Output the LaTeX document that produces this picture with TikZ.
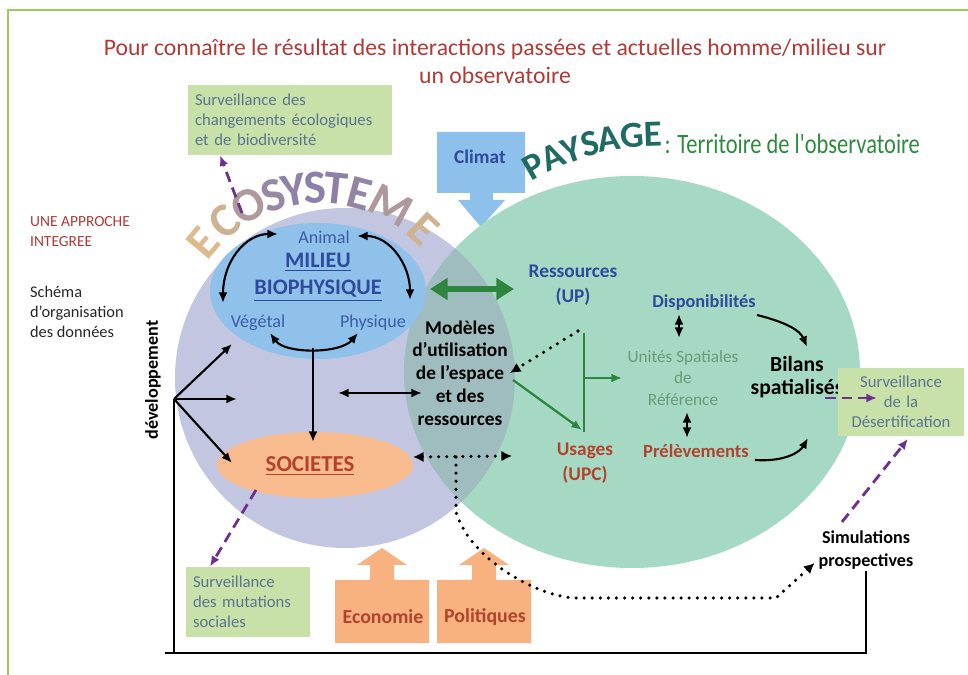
\documentclass[tikz,border=0pt]{standalone}
\usepackage{fontspec}
\setmainfont{Carlito}
\usetikzlibrary{arrows.meta,positioning,calc}

\definecolor{titlered}{HTML}{B03A36}
\definecolor{ecolav}{HTML}{C3C6E0}
\definecolor{paymint}{HTML}{A5D9C3}
\definecolor{lensgray}{HTML}{9FBCBE}
\definecolor{milblue}{HTML}{8FC1EA}
\definecolor{socorange}{HTML}{F8BB8E}
\definecolor{survgreen}{HTML}{C7E1A9}
\definecolor{survtext}{HTML}{5D7390}
\definecolor{darkblue}{HTML}{2F4A9C}
\definecolor{midblue}{HTML}{3D5CA8}
\definecolor{darkred}{HTML}{B2432C}
\definecolor{arrgreen}{HTML}{2E8540}
\definecolor{climblue}{HTML}{8DC0EA}
\definecolor{facorange}{HTML}{F8B27F}
\definecolor{purpledash}{HTML}{6E2F8E}
\definecolor{unitgreen}{HTML}{6A9A78}
\definecolor{framegreen}{HTML}{9BCB5B}
\definecolor{ecotan}{HTML}{E0C08C}
\definecolor{ecopurple}{HTML}{857AAB}
\definecolor{payteal}{HTML}{1F6A62}
\definecolor{terrgreen}{HTML}{2E8B3E}

\tikzset{
  lbl/.style={inner sep=1pt, align=center},
  survbox/.style={fill=survgreen, text=survtext, inner sep=4pt,
    font=\fontsize{9.5}{11.4}\selectfont},
  blkarr/.style={line width=1.2pt, -{Latex[length=6pt,width=5pt]}},
  dblarr/.style={line width=1.2pt, {Latex[length=6pt,width=5pt]}-{Latex[length=6pt,width=5pt]}},
  dotline/.style={line width=2pt, line cap=round, dash pattern=on 0pt off 4.6pt},
  purparr/.style={purpledash, line width=1.6pt, dash pattern=on 6pt off 3.5pt,
    -{Latex[length=6pt,width=5pt]}},
  grnline/.style={arrgreen, line width=1.3pt},
}

\begin{document}
\begin{tikzpicture}[x=0.02cm, y=-0.02cm]
\useasboundingbox (0,0) rectangle (968,675);

% frame
\draw[framegreen, line width=1pt] (968,10) -- (8,10) -- (8,675);

% title and side texts
\node[lbl, text=titlered, font=\fontsize{13.5}{16}\selectfont] (title) at (495,61)
  {Pour connaître le résultat des interactions passées et actuelles homme/milieu sur\\un observatoire};
\node[lbl, anchor=west, align=left, text=titlered, font=\fontsize{8.8}{11.4}\selectfont] (approche) at (28,232)
  {UNE APPROCHE\\INTEGREE};
\node[lbl, anchor=west, align=left, text=black!85, font=\fontsize{9.3}{11.4}\selectfont] (schema) at (28,312)
  {Schéma\\d’organisation\\des données};

% climat and factors
\fill[climblue] (437,132) -- (525,132) -- (525,193) -- (493,193) -- (493,200) -- (505,200)
  -- (481,227) -- (458,200) -- (470,200) -- (470,193) -- (437,193) -- cycle;
\node[lbl, text=darkblue, font=\bfseries\fontsize{11}{12}\selectfont] (climat) at (480,157) {Climat};
\foreach \cx in {382,484}
  \fill[facorange] (\cx-47,643) -- (\cx-47,580) -- (\cx-12,580) -- (\cx-12,565) -- (\cx-25,565)
    -- (\cx,548) -- (\cx+25,565) -- (\cx+12,565) -- (\cx+12,580) -- (\cx+47,580) -- (\cx+47,643) -- cycle;
\node[lbl, text=darkred, font=\bfseries\fontsize{11.3}{12}\selectfont] (economie) at (383,617) {Economie};
\node[lbl, text=darkred, font=\bfseries\fontsize{11.3}{12}\selectfont] (politiques) at (485,617) {Politiques};

% the two domains
\fill[paymint] (632,372) ellipse [x radius=228, y radius=196];
\fill[ecolav] (345,378) circle [radius=170];
\begin{scope}
  \clip (345,378) circle [radius=170];
  \fill[lensgray] (632,372) ellipse [x radius=228, y radius=196];
\end{scope}
\fill[milblue] (318,291) ellipse [x radius=108, y radius=68];
\fill[socorange] (315,465) ellipse [x radius=98, y radius=33];

% arched titles
\foreach \ch/\a/\p in {E/140/5,C/129/22,O/118/55,S/108/80,Y/100/88,S/92/92,T/84/90,E/75/85,M/62/55,E/47/20}
  \node[inner sep=0pt, text=ecopurple!\p!ecotan, font=\bfseries\fontsize{27}{27}\selectfont, rotate=\a-90]
    at ($(320,340)+({152*cos(\a)},{-152*sin(\a)})$) {\ch};
\foreach \ch/\x/\y/\r in {P/534/166/30,A/553/157/24,Y/572/150/19,S/590/144/14,A/609/139/9,G/632/136/5,E/653/134/2}
  \node[inner sep=0pt, text=payteal, font=\bfseries\fontsize{21}{21}\selectfont, rotate=\r] at (\x,\y) {\ch};
\node[lbl, anchor=west, text=terrgreen, xscale=0.8, transform shape, font=\fontsize{16}{20}\selectfont]
  (territoire) at (663,144) {: Territoire de l\textquotesingle observatoire};

% labels
\node[lbl, text=midblue, font=\fontsize{10.3}{12}\selectfont] (animal) at (324,237) {Animal};
\node[lbl, text=darkblue, font=\bfseries\fontsize{12.6}{15.5}\selectfont] (milieu) at (318,277)
  {\underline{MILIEU}\\\underline{BIOPHYSIQUE}};
\node[lbl, text=midblue, font=\fontsize{10.3}{12}\selectfont] (vegetal) at (258,323) {Végétal};
\node[lbl, text=midblue, font=\fontsize{10.3}{12}\selectfont] (physique) at (373,323) {Physique};
\node[lbl, font=\bfseries\fontsize{11}{13}\selectfont] (modeles) at (460,373)
  {Modèles\\d’utilisation\\de l’espace\\et des\\ressources};
\node[lbl, text=darkred, font=\bfseries\fontsize{13}{13}\selectfont] (societes) at (310,466) {\underline{SOCIETES}};
\node[lbl, text=darkblue, font=\bfseries\fontsize{11}{14}\selectfont] (ressup) at (573,285) {Ressources\\(UP)};
\node[lbl, text=darkred, font=\bfseries\fontsize{11}{14}\selectfont] (usages) at (585,463) {Usages\\(UPC)};
\node[lbl, text=darkblue, font=\bfseries\fontsize{10.4}{12}\selectfont] (dispo) at (704,303) {Disponibilités};
\node[lbl, text=unitgreen, font=\fontsize{9.8}{12.4}\selectfont] (unites) at (683,378)
  {Unités Spatiales\\de\\Référence};
\node[lbl, text=darkred, font=\bfseries\fontsize{10.6}{12}\selectfont] (prelev) at (696,451) {Prélèvements};
\node[lbl, font=\bfseries\fontsize{12.3}{13.2}\selectfont] (bilans) at (797,377) {Bilans\\spatialisés};
\node[survbox, text width=2.25cm, align=center, minimum height=1.38cm] (survdes) at (901,402)
  {Surveillance\\de la\\Désertification};
\node[survbox, text width=3.8cm, align=left, minimum height=1.4cm] (survtop) at (290,120)
  {Surveillance des\\changements écologiques\\et de biodiversité};
\node[survbox, text width=2.2cm, align=left, minimum height=1.4cm] (survbot) at (248,602)
  {Surveillance\\des mutations\\sociales};
\node[lbl, font=\bfseries\fontsize{10.3}{13}\selectfont] (simul) at (866,550) {Simulations\\prospectives};
\node[lbl, rotate=90, font=\bfseries\fontsize{10.3}{12}\selectfont] (devel) at (153,380) {développement};

% milieu internal links
\draw[dblarr] ($(animal)+(-46,-3)$) .. controls (245,234) and (223,262) .. ($(vegetal)+(-35,-20)$);
\draw[dblarr] ($(animal)+(33,-1)$) .. controls (390,236) and (410,265) .. ($(physique)+(37,-23)$);
\draw[dblarr] ($(vegetal)+(12,10)$) .. controls (285,354) and (340,354) .. ($(physique)+(-15,10)$);
\coordinate (junc) at (313,348);
\draw[blkarr] (junc) -- ($(societes)+(3,-24)$);
\coordinate (ecoin) at (338,393);
\draw[dblarr] (ecoin) -- ($(modeles)+(-38,20)$);
\draw[arrgreen, line width=3pt, {Triangle[length=10pt,width=12pt]}-{Triangle[length=10pt,width=12pt]}]
  ($(milieu)+(112,12)$) -- ($(ressup)+(-59,4)$);

% developpement
\coordinate (devo) at (174,399);
\draw[blkarr] (devo) -- ($(vegetal)+(-26,21)$);
\draw[blkarr] (devo) -- (237,399);
\draw[blkarr] (devo) -- ($(societes)+(-78,-3)$);
\draw[line width=1.3pt] (devo) -- (174,653);
\draw[line width=1.3pt] (165,653) -| (simul.south);

% dotted links
\coordinate (dotj) at (456,457);
\draw[dotline, {Latex[length=6pt,width=6pt]}-{Latex[length=6pt,width=6pt]}]
  ($(societes)+(103,-9)$) -- ($(usages)+(-73,-7)$);
\draw[dotline, -{Latex[length=6pt,width=6pt]}] (dotj) -- (456,512) .. controls (470,560) and (540,598) .. (577,598)
  -- (776,598) -- ($(simul.west)+(-2,13)$);
\coordinate (vtop) at (584,333);
\coordinate (vbot) at (584,432);
\draw[dotline, -{Latex[length=6pt,width=6pt]}] ($(vtop)+(-6,-2)$) -- ($(modeles)+(50,0)$);

% usages lines
\draw[grnline] (vtop) -- (vbot);
\draw[grnline, -{Latex[length=6pt,width=5pt]}] ($(modeles)+(53,7)$) -- ($(vbot)+(-2,-2)$);
\draw[grnline, -{Latex[length=6pt,width=5pt]}] (584,378) -- ($(unites)+(-61,0)$);

% bilans
\draw[dblarr] ($(dispo)+(-25,11)$) -- ($(unites)+(-4,-40)$);
\draw[dblarr] ($(unites)+(4,34)$) -- ($(prelev)+(-9,-13)$);
\draw[blkarr] ($(dispo)+(53,12)$) .. controls (785,322) and (800,330) .. ($(bilans)+(10,-30)$);
\draw[blkarr] ($(prelev)+(59,9)$) .. controls (785,462) and (800,452) .. ($(bilans)+(11,61)$);

% surveillance links
\draw[purparr] ($(bilans)+(28,21)$) -- ($(survdes)+(-24,-4)$);
\draw[purparr] ($(simul)+(-24,-28)$) -- ($(survdes.south)+(7,2)$);
\draw[purparr] ($(societes)+(-54,24)$) -- ($(survbot.north)+(-38,0)$);
\draw[purparr] (242,213) -- ($(survtop.south)+(-70,0)$);

\end{tikzpicture}
\end{document}
